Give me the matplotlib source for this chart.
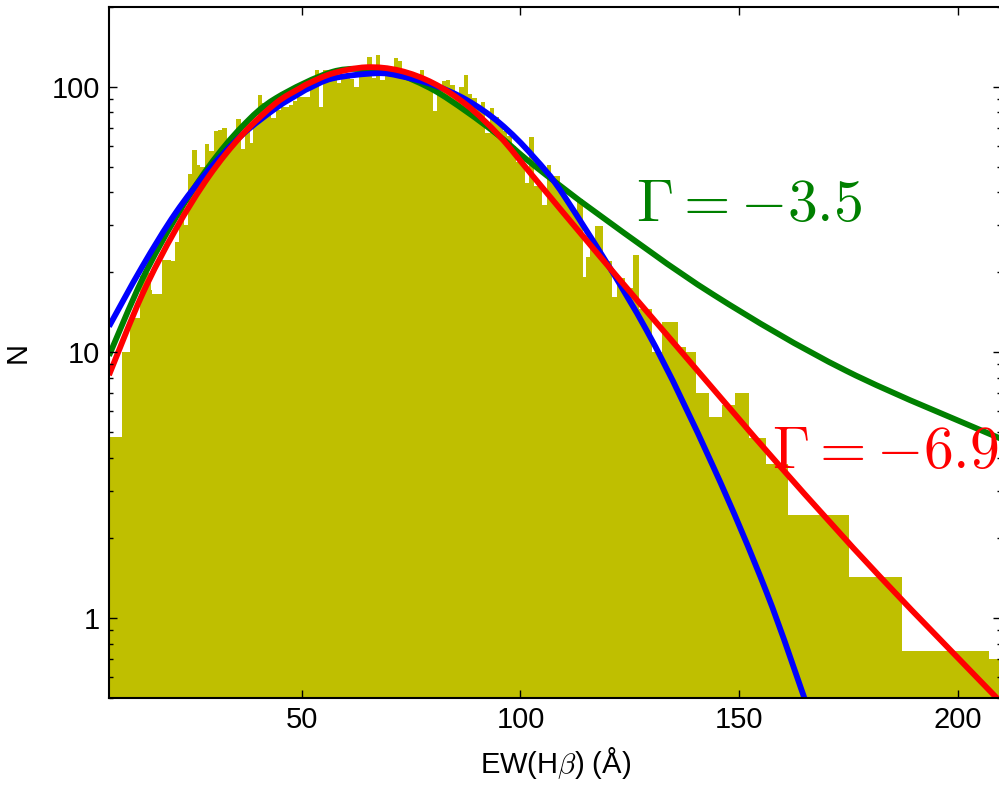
import numpy as np
import matplotlib
matplotlib.use("Agg")
import matplotlib.pyplot as plt
from matplotlib.path import Path
from matplotlib.patches import PathPatch
from matplotlib.ticker import FuncFormatter, NullFormatter, LogLocator

plt.rcParams['font.family'] = ['Liberation Sans', 'DejaVu Sans']
plt.rcParams['mathtext.fontset'] = 'cm'

# EW(Hbeta) histogram: variable-width blocks below 52 A and in the tail,
# unit-width bins in between
edges_low = [6.0, 8.9, 10.9, 13.0, 14.0, 15.5, 15.9, 18.2, 20.1, 21.0, 22.0,
             23.1, 24.0, 25.0, 26.0, 26.9, 27.9, 28.8, 30.0, 31.0, 31.9, 33.0,
             34.0, 35.1, 36.1, 37.1, 38.1, 39.0, 40.0, 41.0, 42.0, 43.1, 44.1,
             45.2, 47.1, 48.0, 49.0]
counts_low = [4.78, 10.0, 13.5, 19.3, 19.9, 17.2, 16.5, 22.3, 22.0, 26.1,
              35.6, 30.2, 47.0, 57.8, 50.7, 50.0, 60.9, 57.0, 68.3, 68.7, 69.7,
              61.2, 65.8, 75.4, 58.1, 72.8, 61.2, 72.8, 93.0, 86.6, 78.2, 76.0,
              81.7, 84.1, 85.3, 88.6, 91.7]

edges_mid = list(range(52, 113))
counts_mid = [100, 115.6, 84.1, 116, 108, 108, 103.5, 110, 112, 107, 100,
              113, 115, 129.7, 107.5, 131.6, 106, 114, 115, 127.9, 124.9, 113,
              112, 111, 110, 115.6, 108, 97.2, 81.2, 100, 105.3, 106, 101.5,
              95, 100, 110.7, 93.9, 90.4, 84, 87.4, 67.1, 82.9, 76.7, 72, 68,
              65, 60, 52.2, 56, 43.3, 64.5, 42.1, 42.1, 35.9, 50.8, 46.1, 46.1,
              40.5, 37, 35.5, 34]

edges_tail = [113.0, 114.2, 115.0, 115.9, 117.0, 118.9, 120.9, 122.0, 123.9,
              125.7, 127.1, 130.0, 132.3, 136.0, 137.9, 140.1, 143.1, 146.1,
              149.1, 152.2, 156.0, 161.2, 175.0, 187.1, 207.0, 215.0]
counts_tail = [37.7, 19.2, 22.9, 26.5, 29.9, 22.0, 16.1, 19.0, 17.5, 23.3,
               14.5, 10.0, 13.0, 10.5, 10.0, 7.0, 5.7, 6.3, 7.0, 4.77, 3.80,
               2.43, 1.42, 0.753, 0.697]

hist_edges = np.array(edges_low + edges_mid + edges_tail, dtype=float)
hist_n = np.array(counts_low + counts_mid + counts_tail, dtype=float)

# fitted models
gauss_x = [6.0, 13.6, 21.2, 28.8, 36.4, 44.1, 49.6, 51.7, 57.2, 67.1, 72.4,
           80.1, 87.7, 95.3, 102.9, 110.6, 128.8, 144.0, 156.2, 165.4]
gauss_y = [12.5, 21.0, 33.4, 48.6, 65.8, 82.9, 94.4, 98.6, 107.5, 112.3,
           109.7, 101.5, 89.1, 72.8, 54.6, 37.4, 12.1, 3.72, 1.25, 0.47]

g35_x = [6.0, 13.6, 21.2, 28.8, 36.4, 44.1, 57.2, 67.1, 72.4, 80.1, 87.7,
         95.3, 102.9, 118.2, 144.0, 174.5, 209.8]
g35_y = [9.7, 18.8, 32.0, 50.0, 70.7, 90.4, 113.9, 115.6, 111.0, 97.2, 80.5,
         64.9, 50.8, 32.7, 16.5, 8.5, 4.72]

g69_x = [6.0, 13.6, 21.2, 28.8, 36.4, 44.1, 49.6, 51.7, 57.2, 64.8, 72.4,
         80.1, 87.7, 95.3, 102.9, 118.2, 136.4, 159.3, 182.1, 209.8]
g69_y = [8.2, 16.5, 28.9, 45.9, 65.8, 86.6, 98.6, 103, 112.3, 118.3, 114.9,
         103, 85.3, 64.9, 45.9, 22.9, 10.2, 3.72, 1.43, 0.48]


def smooth_curve(xs, ys):
    """Catmull-Rom style Bezier path through the points, built in (x, log y)."""
    p = np.column_stack([np.asarray(xs, float), np.log10(ys)])
    n = len(p)
    verts = [p[0]]
    codes = [Path.MOVETO]
    for i in range(n - 1):
        p0 = p[max(i - 1, 0)]
        p1 = p[i]
        p2 = p[i + 1]
        p3 = p[min(i + 2, n - 1)]
        verts += [p1 + (p2 - p0) / 6.0, p2 - (p3 - p1) / 6.0, p2]
        codes += [Path.CURVE4] * 3
    verts = np.array(verts)
    verts[:, 1] = 10 ** verts[:, 1]
    return Path(verts, codes)


fig = plt.figure(figsize=(9.99, 7.86), dpi=100)
ax = fig.add_axes([0.1091, 0.1123, 0.8930, 0.8792])

ax.stairs(hist_n, hist_edges, fill=True, color='y', baseline=0.01, linewidth=0)

for cx, cy, col in [(g35_x, g35_y, 'g'), (gauss_x, gauss_y, 'b'), (g69_x, g69_y, 'r')]:
    ax.add_patch(PathPatch(smooth_curve(cx, cy), fill=False, edgecolor=col,
                           lw=4.2, capstyle='butt'))

ax.text(126.4, 31.1, r'$\Gamma = -3.5$', color='g', fontsize=43, va='baseline')
ax.text(157.4, 3.67, r'$\Gamma = -6.9$', color='r', fontsize=43, va='baseline',
        clip_on=False)

ax.set_yscale('log')
ax.set_xlim(6.0, 209.8)
ax.set_ylim(0.5, 200)
ax.set_xticks([50, 100, 150, 200])
ax.yaxis.set_major_locator(LogLocator(base=10))
ax.yaxis.set_minor_locator(LogLocator(base=10, subs=np.arange(2, 10)))
ax.yaxis.set_major_formatter(FuncFormatter(lambda v, p: '%g' % v))
ax.yaxis.set_minor_formatter(NullFormatter())

ax.tick_params(which='both', direction='in', top=True, right=True, width=1.0)
ax.tick_params(which='major', length=5.5, labelsize=21)
ax.tick_params(which='minor', length=3)
ax.tick_params(axis='x', pad=6)
ax.tick_params(axis='y', pad=6.5)
for sp in ax.spines.values():
    sp.set_linewidth(1.5)

ax.set_xlabel(r'EW(H$\beta$) (Å)', fontsize=21, labelpad=8)
ax.set_ylabel('N', fontsize=21)
ax.yaxis.set_label_coords(-0.087, 0.5)

fig.savefig('out.png', dpi=100)
